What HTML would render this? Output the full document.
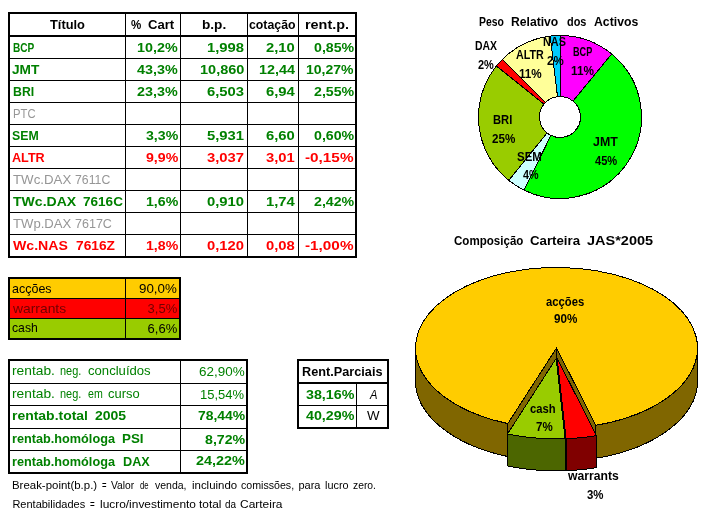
<!DOCTYPE html>
<html lang="pt"><head><meta charset="utf-8"><title>Carteira JAS 2005</title>
<style>
html,body{margin:0;padding:0;background:#fff}
body{width:723px;height:513px;position:relative;overflow:hidden;font-family:"Liberation Sans",sans-serif}
#sheet{position:absolute;left:0;top:0;width:723px;height:513px;overflow:hidden;will-change:transform}
.r{position:absolute}
.t{position:absolute;white-space:pre;font-weight:700;line-height:normal;transform-origin:0 0;font-family:"Liberation Sans",sans-serif}
svg{position:absolute;left:0;top:0}
</style></head>
<body>
<div id="sheet">
<svg width="723" height="513" viewBox="0 0 723 513" shape-rendering="crispEdges">
<path d="M560.00,35.50 A81.5,81.5 0 0 1 611.64,53.95 L572.99,101.14 A20.5,20.5 0 0 0 560.00,96.50 Z" fill="#ff00ff" stroke="#000" stroke-width="1"/>
<path d="M611.64,53.95 A81.5,81.5 0 0 1 524.00,190.12 L550.95,135.39 A20.5,20.5 0 0 0 572.99,101.14 Z" fill="#00ff00" stroke="#000" stroke-width="1"/>
<path d="M524.00,190.12 A81.5,81.5 0 0 1 508.79,180.40 L547.12,132.95 A20.5,20.5 0 0 0 550.95,135.39 Z" fill="#ccffff" stroke="#000" stroke-width="1"/>
<path d="M508.79,180.40 A81.5,81.5 0 0 1 496.43,66.00 L544.01,104.17 A20.5,20.5 0 0 0 547.12,132.95 Z" fill="#99cc00" stroke="#000" stroke-width="1"/>
<path d="M496.43,66.00 A81.5,81.5 0 0 1 502.27,59.47 L545.48,102.53 A20.5,20.5 0 0 0 544.01,104.17 Z" fill="#ff0000" stroke="#000" stroke-width="1"/>
<path d="M502.27,59.47 A81.5,81.5 0 0 1 550.16,36.10 L557.52,96.65 A20.5,20.5 0 0 0 545.48,102.53 Z" fill="#ffff99" stroke="#000" stroke-width="1"/>
<path d="M550.16,36.10 A81.5,81.5 0 0 1 560.00,35.50 L560.00,96.50 A20.5,20.5 0 0 0 557.52,96.65 Z" fill="#00ccff" stroke="#000" stroke-width="1"/>
<path d="M507.81,423.55 A141.0,80.5 0 0 1 415.50,348.00 L415.50,381.00 A141.0,80.5 0 0 0 507.81,456.55 Z" fill="#806600" stroke="#000" stroke-width="1" stroke-linejoin="round"/>
<path d="M697.50,348.00 A141.0,80.5 0 0 1 595.84,425.30 L595.84,458.30 A141.0,80.5 0 0 0 697.50,381.00 Z" fill="#806600" stroke="#000" stroke-width="1" stroke-linejoin="round"/>
<path d="M556.50,348.00 L507.81,423.55 L507.81,456.55 L556.50,381.00 Z" fill="#806600" stroke="#000" stroke-width="1" stroke-linejoin="round"/>
<path d="M556.50,348.00 L595.84,425.30 L595.84,458.30 L556.50,381.00 Z" fill="#806600" stroke="#000" stroke-width="1" stroke-linejoin="round"/>
<path d="M556.50,348.00 L507.81,423.55 A141.0,80.5 0 1 1 595.84,425.30 Z" fill="#ffcc00" stroke="#000" stroke-width="1" stroke-linejoin="round"/>
<path d="M596.54,435.70 A141.0,80.5 0 0 1 566.05,438.74 L566.05,470.74 A141.0,80.5 0 0 0 596.54,467.70 Z" fill="#800000" stroke="#000" stroke-width="1" stroke-linejoin="round"/>
<path d="M557.20,358.40 L566.05,438.74 L566.05,470.74 L557.20,390.40 Z" fill="#800000" stroke="#000" stroke-width="1" stroke-linejoin="round"/>
<path d="M557.20,358.40 L596.54,435.70 A141.0,80.5 0 0 1 566.05,438.74 Z" fill="#ff0000" stroke="#000" stroke-width="1" stroke-linejoin="round"/>
<path d="M565.05,438.74 A141.0,80.5 0 0 1 507.51,433.95 L507.51,465.95 A141.0,80.5 0 0 0 565.05,470.74 Z" fill="#4c6600" stroke="#000" stroke-width="1" stroke-linejoin="round"/>
<path d="M556.20,358.40 L565.05,438.74 A141.0,80.5 0 0 1 507.51,433.95 Z" fill="#99cc00" stroke="#000" stroke-width="1" stroke-linejoin="round"/>
</svg>
<div class="r" style="left:8px;top:12px;width:349px;height:2px;background:#000"></div>
<div class="r" style="left:8px;top:256px;width:349px;height:2px;background:#000"></div>
<div class="r" style="left:8px;top:12px;width:2px;height:246px;background:#000"></div>
<div class="r" style="left:355px;top:12px;width:2px;height:246px;background:#000"></div>
<div class="r" style="left:8px;top:35px;width:349px;height:2px;background:#000"></div>
<div class="r" style="left:8px;top:58px;width:349px;height:1px;background:#000"></div>
<div class="r" style="left:8px;top:80px;width:349px;height:1px;background:#000"></div>
<div class="r" style="left:8px;top:102px;width:349px;height:1px;background:#000"></div>
<div class="r" style="left:8px;top:124px;width:349px;height:1px;background:#000"></div>
<div class="r" style="left:8px;top:146px;width:349px;height:1px;background:#000"></div>
<div class="r" style="left:8px;top:168px;width:349px;height:1px;background:#000"></div>
<div class="r" style="left:8px;top:190px;width:349px;height:1px;background:#000"></div>
<div class="r" style="left:8px;top:212px;width:349px;height:1px;background:#000"></div>
<div class="r" style="left:8px;top:234px;width:349px;height:1px;background:#000"></div>
<div class="r" style="left:125px;top:12px;width:1px;height:246px;background:#000"></div>
<div class="r" style="left:180px;top:12px;width:1px;height:246px;background:#000"></div>
<div class="r" style="left:247px;top:12px;width:1px;height:246px;background:#000"></div>
<div class="r" style="left:298px;top:12px;width:1px;height:246px;background:#000"></div>
<span class="t" style="left:49.90px;top:16.80px;font-size:13px;color:#000000;transform:scaleX(0.9887)">Título</span>
<span class="t" style="left:131.30px;top:16.80px;font-size:13px;color:#000000;transform:scaleX(0.8879)">%</span>
<span class="t" style="left:148.20px;top:16.80px;font-size:13px;color:#000000;transform:scaleX(1.0077)">Cart</span>
<span class="t" style="left:202.00px;top:16.80px;font-size:13px;color:#000000;transform:scaleX(1.0476)">b.p.</span>
<span class="t" style="left:249.10px;top:16.80px;font-size:13px;color:#000000;transform:scaleX(0.9470)">cotação</span>
<span class="t" style="left:304.70px;top:16.80px;font-size:13px;color:#000000;transform:scaleX(1.1083)">rent.p.</span>
<span class="t" style="left:12.75px;top:39.50px;font-size:13px;color:#008000;transform:scaleX(0.7755)">BCP</span>
<span class="t" style="left:137.40px;top:39.50px;font-size:13px;color:#008000;transform:scaleX(1.1030)">10,2%</span>
<span class="t" style="left:207.40px;top:39.50px;font-size:13px;color:#008000;transform:scaleX(1.1385)">1,998</span>
<span class="t" style="left:266.00px;top:39.50px;font-size:13px;color:#008000;transform:scaleX(1.1383)">2,10</span>
<span class="t" style="left:313.60px;top:39.50px;font-size:13px;color:#008000;transform:scaleX(1.0894)">0,85%</span>
<span class="t" style="left:12.00px;top:61.50px;font-size:13px;color:#008000;transform:scaleX(1.0538)">JMT</span>
<span class="t" style="left:137.40px;top:61.50px;font-size:13px;color:#008000;transform:scaleX(1.1030)">43,3%</span>
<span class="t" style="left:200.00px;top:61.50px;font-size:13px;color:#008000;transform:scaleX(1.1156)">10,860</span>
<span class="t" style="left:258.80px;top:61.50px;font-size:13px;color:#008000;transform:scaleX(1.1077)">12,44</span>
<span class="t" style="left:306.20px;top:61.50px;font-size:13px;color:#008000;transform:scaleX(1.0794)">10,27%</span>
<span class="t" style="left:12.50px;top:83.50px;font-size:13px;color:#008000;transform:scaleX(0.9464)">BRI</span>
<span class="t" style="left:137.40px;top:83.50px;font-size:13px;color:#008000;transform:scaleX(1.1030)">23,3%</span>
<span class="t" style="left:207.40px;top:83.50px;font-size:13px;color:#008000;transform:scaleX(1.1385)">6,503</span>
<span class="t" style="left:266.00px;top:83.50px;font-size:13px;color:#008000;transform:scaleX(1.1383)">6,94</span>
<span class="t" style="left:313.60px;top:83.50px;font-size:13px;color:#008000;transform:scaleX(1.0894)">2,55%</span>
<span class="t" style="left:12.50px;top:105.50px;font-size:13px;color:#969696;transform:scaleX(0.8654);font-weight:400">PTC</span>
<span class="t" style="left:12.30px;top:127.50px;font-size:13px;color:#008000;transform:scaleX(0.9468)">SEM</span>
<span class="t" style="left:145.90px;top:127.50px;font-size:13px;color:#008000;transform:scaleX(1.0878)">3,3%</span>
<span class="t" style="left:207.40px;top:127.50px;font-size:13px;color:#008000;transform:scaleX(1.1385)">5,931</span>
<span class="t" style="left:266.00px;top:127.50px;font-size:13px;color:#008000;transform:scaleX(1.1383)">6,60</span>
<span class="t" style="left:313.60px;top:127.50px;font-size:13px;color:#008000;transform:scaleX(1.0894)">0,60%</span>
<span class="t" style="left:12.30px;top:149.50px;font-size:13px;color:#ff0000;transform:scaleX(0.9703)">ALTR</span>
<span class="t" style="left:145.90px;top:149.50px;font-size:13px;color:#ff0000;transform:scaleX(1.0878)">9,9%</span>
<span class="t" style="left:207.40px;top:149.50px;font-size:13px;color:#ff0000;transform:scaleX(1.1385)">3,037</span>
<span class="t" style="left:266.00px;top:149.50px;font-size:13px;color:#ff0000;transform:scaleX(1.1383)">3,01</span>
<span class="t" style="left:305.30px;top:149.50px;font-size:13px;color:#ff0000;transform:scaleX(1.1772)">-0,15%</span>
<span class="t" style="left:13.00px;top:171.50px;font-size:13px;color:#969696;transform:scaleX(1.0210);font-weight:400">TWc.DAX</span>
<span class="t" style="left:75.00px;top:171.50px;font-size:13px;color:#969696;transform:scaleX(0.9437);font-weight:400">7611C</span>
<span class="t" style="left:12.70px;top:193.50px;font-size:13px;color:#008000;transform:scaleX(1.0803)">TWc.DAX</span>
<span class="t" style="left:82.60px;top:193.50px;font-size:13px;color:#008000;transform:scaleX(1.0418)">7616C</span>
<span class="t" style="left:145.90px;top:193.50px;font-size:13px;color:#008000;transform:scaleX(1.0878)">1,6%</span>
<span class="t" style="left:207.40px;top:193.50px;font-size:13px;color:#008000;transform:scaleX(1.1385)">0,910</span>
<span class="t" style="left:266.00px;top:193.50px;font-size:13px;color:#008000;transform:scaleX(1.1383)">1,74</span>
<span class="t" style="left:313.60px;top:193.50px;font-size:13px;color:#008000;transform:scaleX(1.0894)">2,42%</span>
<span class="t" style="left:13.00px;top:215.50px;font-size:13px;color:#969696;transform:scaleX(1.0087);font-weight:400">TWp.DAX</span>
<span class="t" style="left:75.00px;top:215.50px;font-size:13px;color:#969696;transform:scaleX(0.9634);font-weight:400">7617C</span>
<span class="t" style="left:13.00px;top:237.50px;font-size:13px;color:#ff0000;transform:scaleX(1.0870)">Wc.NAS</span>
<span class="t" style="left:75.90px;top:237.50px;font-size:13px;color:#ff0000;transform:scaleX(1.0569)">7616Z</span>
<span class="t" style="left:145.90px;top:237.50px;font-size:13px;color:#ff0000;transform:scaleX(1.0878)">1,8%</span>
<span class="t" style="left:207.40px;top:237.50px;font-size:13px;color:#ff0000;transform:scaleX(1.1385)">0,120</span>
<span class="t" style="left:266.00px;top:237.50px;font-size:13px;color:#ff0000;transform:scaleX(1.1383)">0,08</span>
<span class="t" style="left:305.30px;top:237.50px;font-size:13px;color:#ff0000;transform:scaleX(1.1772)">-1,00%</span>
<div class="r" style="left:9px;top:278px;width:171px;height:20px;background:#ffcc00"></div>
<div class="r" style="left:9px;top:298px;width:171px;height:20px;background:#ff0000"></div>
<div class="r" style="left:9px;top:318px;width:171px;height:20px;background:#99cc00"></div>
<div class="r" style="left:8px;top:277px;width:173px;height:2px;background:#000"></div>
<div class="r" style="left:8px;top:338px;width:173px;height:2px;background:#000"></div>
<div class="r" style="left:8px;top:277px;width:2px;height:63px;background:#000"></div>
<div class="r" style="left:179px;top:277px;width:2px;height:63px;background:#000"></div>
<div class="r" style="left:8px;top:298px;width:173px;height:1px;background:#000"></div>
<div class="r" style="left:8px;top:318px;width:173px;height:1px;background:#000"></div>
<div class="r" style="left:125px;top:277px;width:1px;height:63px;background:#000"></div>
<span class="t" style="left:12.40px;top:280.70px;font-size:13px;color:#000000;transform:scaleX(0.9612);font-weight:400">acções</span>
<span class="t" style="left:12.51px;top:300.90px;font-size:13px;color:#700000;transform:scaleX(1.0661);font-weight:400">warrants</span>
<span class="t" style="left:12.40px;top:320.40px;font-size:13px;color:#000000;transform:scaleX(0.9382);font-weight:400">cash</span>
<span class="t" style="left:139.30px;top:281.00px;font-size:13px;color:#000000;transform:scaleX(1.0271);font-weight:400">90,0%</span>
<span class="t" style="left:147.60px;top:300.90px;font-size:13px;color:#700000;transform:scaleX(1.0000);font-weight:400">3,5%</span>
<span class="t" style="left:147.60px;top:320.60px;font-size:13px;color:#000000;transform:scaleX(1.0000);font-weight:400">6,6%</span>
<div class="r" style="left:8px;top:359px;width:240px;height:2px;background:#000"></div>
<div class="r" style="left:8px;top:472px;width:240px;height:2px;background:#000"></div>
<div class="r" style="left:8px;top:359px;width:2px;height:115px;background:#000"></div>
<div class="r" style="left:246px;top:359px;width:2px;height:115px;background:#000"></div>
<div class="r" style="left:8px;top:383px;width:240px;height:1px;background:#000"></div>
<div class="r" style="left:8px;top:405px;width:240px;height:1px;background:#000"></div>
<div class="r" style="left:8px;top:428px;width:240px;height:1px;background:#000"></div>
<div class="r" style="left:8px;top:450px;width:240px;height:1px;background:#000"></div>
<div class="r" style="left:180px;top:359px;width:1px;height:115px;background:#000"></div>
<span class="t" style="left:12.40px;top:363.40px;font-size:13px;color:#008000;transform:scaleX(1.0593);font-weight:400">rentab.</span>
<span class="t" style="left:59.60px;top:363.40px;font-size:13px;color:#008000;transform:scaleX(0.8419);font-weight:400">neg.</span>
<span class="t" style="left:87.60px;top:363.40px;font-size:13px;color:#008000;transform:scaleX(1.0081);font-weight:400">concluídos</span>
<span class="t" style="left:12.40px;top:386.20px;font-size:13px;color:#008000;transform:scaleX(1.0593);font-weight:400">rentab.</span>
<span class="t" style="left:59.60px;top:386.20px;font-size:13px;color:#008000;transform:scaleX(0.8419);font-weight:400">neg.</span>
<span class="t" style="left:87.60px;top:386.20px;font-size:13px;color:#008000;transform:scaleX(0.8177);font-weight:400">em</span>
<span class="t" style="left:108.00px;top:386.20px;font-size:13px;color:#008000;transform:scaleX(0.9937);font-weight:400">curso</span>
<span class="t" style="left:12.00px;top:408.40px;font-size:13px;color:#008000;transform:scaleX(1.0734)">rentab.total</span>
<span class="t" style="left:95.10px;top:408.40px;font-size:13px;color:#008000;transform:scaleX(1.0761)">2005</span>
<span class="t" style="left:12.00px;top:431.30px;font-size:13px;color:#008000;transform:scaleX(0.9763)">rentab.homóloga</span>
<span class="t" style="left:122.40px;top:431.30px;font-size:13px;color:#008000;transform:scaleX(1.0286)">PSI</span>
<span class="t" style="left:12.00px;top:453.50px;font-size:13px;color:#008000;transform:scaleX(0.9763)">rentab.homóloga</span>
<span class="t" style="left:123.10px;top:453.50px;font-size:13px;color:#008000;transform:scaleX(0.9745)">DAX</span>
<span class="t" style="left:198.70px;top:363.60px;font-size:13px;color:#008000;transform:scaleX(1.0340);font-weight:400">62,90%</span>
<span class="t" style="left:200.30px;top:386.60px;font-size:13px;color:#008000;transform:scaleX(0.9977);font-weight:400">15,54%</span>
<span class="t" style="left:197.70px;top:408.30px;font-size:13px;color:#008000;transform:scaleX(1.0703)">78,44%</span>
<span class="t" style="left:204.70px;top:431.60px;font-size:13px;color:#008000;transform:scaleX(1.0894)">8,72%</span>
<span class="t" style="left:196.00px;top:453.40px;font-size:13px;color:#008000;transform:scaleX(1.1088)">24,22%</span>
<div class="r" style="left:297px;top:359px;width:92px;height:2px;background:#000"></div>
<div class="r" style="left:297px;top:427px;width:92px;height:2px;background:#000"></div>
<div class="r" style="left:297px;top:359px;width:2px;height:70px;background:#000"></div>
<div class="r" style="left:387px;top:359px;width:2px;height:70px;background:#000"></div>
<div class="r" style="left:297px;top:382px;width:92px;height:2px;background:#000"></div>
<div class="r" style="left:297px;top:405px;width:92px;height:1px;background:#000"></div>
<div class="r" style="left:356px;top:384px;width:1px;height:45px;background:#000"></div>
<span class="t" style="left:301.70px;top:363.50px;font-size:13px;color:#000000;transform:scaleX(0.9769)">Rent.Parciais</span>
<span class="t" style="left:305.60px;top:387.00px;font-size:13px;color:#008000;transform:scaleX(1.0975)">38,16%</span>
<span class="t" style="left:305.60px;top:408.20px;font-size:13px;color:#008000;transform:scaleX(1.0975)">40,29%</span>
<span class="t" style="left:369.70px;top:387.00px;font-size:13px;color:#000000;transform:scaleX(0.8617);font-weight:400;font-style:italic">A</span>
<span class="t" style="left:367.10px;top:408.20px;font-size:13px;color:#000000;transform:scaleX(1.0244);font-weight:400">W</span>
<span class="t" style="left:12.40px;top:478.60px;font-size:11px;color:#000000;transform:scaleX(1.0391);font-weight:400">Break-point(b.p.)</span>
<span class="t" style="left:101.70px;top:478.60px;font-size:11px;color:#000000;transform:scaleX(0.7031);font-weight:400">=</span>
<span class="t" style="left:110.60px;top:478.60px;font-size:11px;color:#000000;transform:scaleX(0.9317);font-weight:400">Valor</span>
<span class="t" style="left:139.60px;top:478.60px;font-size:11px;color:#000000;transform:scaleX(0.7049);font-weight:400">de</span>
<span class="t" style="left:154.80px;top:478.60px;font-size:11px;color:#000000;transform:scaleX(0.9545);font-weight:400">venda,</span>
<span class="t" style="left:191.90px;top:478.60px;font-size:11px;color:#000000;transform:scaleX(1.0392);font-weight:400">incluindo</span>
<span class="t" style="left:241.20px;top:478.60px;font-size:11px;color:#000000;transform:scaleX(0.9655);font-weight:400">comissões,</span>
<span class="t" style="left:298.40px;top:478.60px;font-size:11px;color:#000000;transform:scaleX(1.0000);font-weight:400">para</span>
<span class="t" style="left:324.70px;top:478.60px;font-size:11px;color:#000000;transform:scaleX(0.9874);font-weight:400">lucro</span>
<span class="t" style="left:352.90px;top:478.60px;font-size:11px;color:#000000;transform:scaleX(0.9388);font-weight:400">zero.</span>
<span class="t" style="left:12.40px;top:497.50px;font-size:11px;color:#000000;transform:scaleX(1.0000);font-weight:400">Rentabilidades</span>
<span class="t" style="left:90.40px;top:497.50px;font-size:11px;color:#000000;transform:scaleX(0.7344);font-weight:400">=</span>
<span class="t" style="left:99.60px;top:497.50px;font-size:11px;color:#000000;transform:scaleX(1.0824);font-weight:400">lucro/investimento</span>
<span class="t" style="left:199.40px;top:497.50px;font-size:11px;color:#000000;transform:scaleX(1.0769);font-weight:400">total</span>
<span class="t" style="left:225.10px;top:497.50px;font-size:11px;color:#000000;transform:scaleX(0.9024);font-weight:400">da</span>
<span class="t" style="left:239.80px;top:497.50px;font-size:11px;color:#000000;transform:scaleX(1.0867);font-weight:400">Carteira</span>
<span class="t" style="left:478.70px;top:13.50px;font-size:13px;color:#000000;transform:scaleX(0.8006)">Peso</span>
<span class="t" style="left:511.10px;top:13.50px;font-size:13px;color:#000000;transform:scaleX(0.9348)">Relativo</span>
<span class="t" style="left:566.60px;top:13.50px;font-size:13px;color:#000000;transform:scaleX(0.8398)">dos</span>
<span class="t" style="left:594.00px;top:13.50px;font-size:13px;color:#000000;transform:scaleX(0.9426)">Activos</span>
<span class="t" style="left:475.00px;top:39.20px;font-size:12px;color:#000000;transform:scaleX(0.8696)">DAX</span>
<span class="t" style="left:478.10px;top:58.40px;font-size:12px;color:#000000;transform:scaleX(0.9133)">2%</span>
<span class="t" style="left:515.50px;top:48.40px;font-size:12px;color:#000000;transform:scaleX(0.8939)">ALTR</span>
<span class="t" style="left:518.90px;top:67.00px;font-size:12px;color:#000000;transform:scaleX(0.9744)">11%</span>
<span class="t" style="left:543.30px;top:35.30px;font-size:12px;color:#000000;transform:scaleX(0.9051)">NAS</span>
<span class="t" style="left:547.00px;top:54.00px;font-size:12px;color:#000000;transform:scaleX(0.9595)">2%</span>
<span class="t" style="left:573.30px;top:45.20px;font-size:12px;color:#000000;transform:scaleX(0.7589)">BCP</span>
<span class="t" style="left:571.40px;top:64.20px;font-size:12px;color:#000000;transform:scaleX(0.9786)">11%</span>
<span class="t" style="left:492.60px;top:113.40px;font-size:12px;color:#000000;transform:scaleX(0.9324)">BRI</span>
<span class="t" style="left:491.50px;top:132.00px;font-size:12px;color:#000000;transform:scaleX(0.9708)">25%</span>
<span class="t" style="left:517.40px;top:149.70px;font-size:12px;color:#000000;transform:scaleX(0.9538)">SEM</span>
<span class="t" style="left:523.00px;top:168.30px;font-size:12px;color:#000000;transform:scaleX(0.8960)">4%</span>
<span class="t" style="left:592.60px;top:135.00px;font-size:12px;color:#000000;transform:scaleX(1.0333)">JMT</span>
<span class="t" style="left:595.20px;top:153.60px;font-size:12px;color:#000000;transform:scaleX(0.9250)">45%</span>
<span class="t" style="left:454.10px;top:233.20px;font-size:13px;color:#000000;transform:scaleX(0.8897)">Composição</span>
<span class="t" style="left:530.20px;top:233.20px;font-size:13px;color:#000000;transform:scaleX(1.0183)">Carteira</span>
<span class="t" style="left:587.40px;top:233.20px;font-size:13px;color:#000000;transform:scaleX(1.1147)">JAS*2005</span>
<span class="t" style="left:545.80px;top:294.80px;font-size:12px;color:#000000;transform:scaleX(0.9386)">acções</span>
<span class="t" style="left:553.90px;top:311.80px;font-size:12px;color:#000000;transform:scaleX(0.9708)">90%</span>
<span class="t" style="left:530.10px;top:402.40px;font-size:12px;color:#000000;transform:scaleX(0.9343)">cash</span>
<span class="t" style="left:535.90px;top:420.40px;font-size:12px;color:#000000;transform:scaleX(0.9595)">7%</span>
<span class="t" style="left:568.20px;top:469.40px;font-size:12px;color:#000000;transform:scaleX(1.0140)">warrants</span>
<span class="t" style="left:586.80px;top:487.80px;font-size:12px;color:#000000;transform:scaleX(0.9538)">3%</span>
</div>
</body></html>
